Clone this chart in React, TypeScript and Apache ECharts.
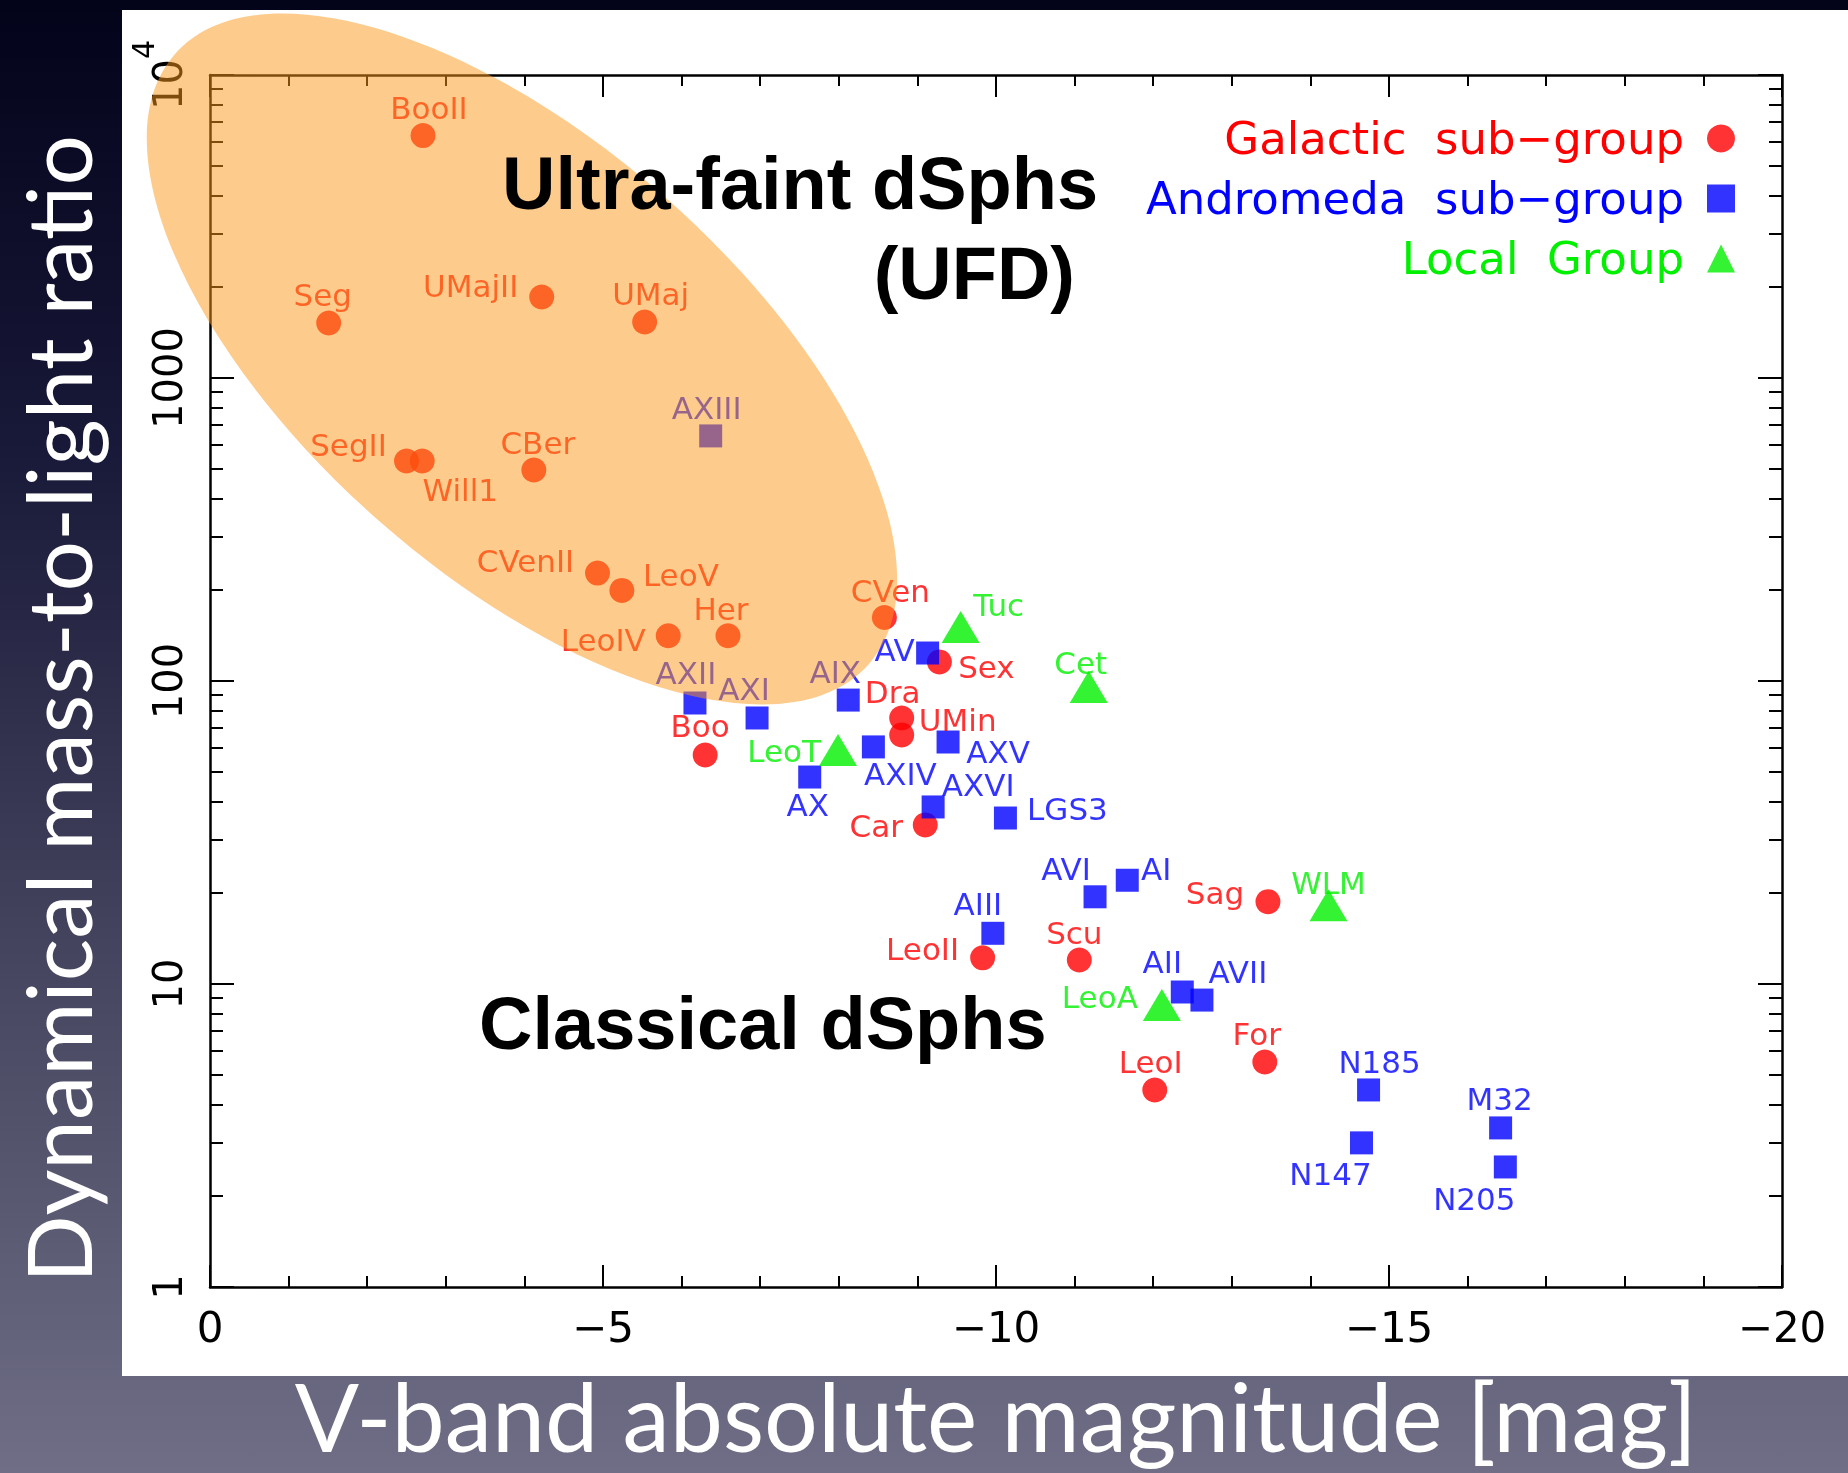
import React, { useEffect, useRef } from "react";
import * as echarts from "echarts";

// ---------------- data ----------------
const GALACTIC_NAMES = ["BooII", "Seg", "UMajII", "UMaj", "SegII", "Will1", "CBer", "CVenII", "LeoV", "LeoIV", "Her", "CVen", "Sex", "Dra", "UMin", "Boo", "Car", "Sag", "LeoII", "Scu", "For", "LeoI"];
const GALACTIC_MV = [-2.71, -1.51, -4.22, -5.53, -2.5, -2.7, -4.12, -4.93, -5.24, -5.83, -6.59, -8.58, -9.28, -8.8, -8.8, -6.3, -9.1, -13.46, -9.83, -11.06, -13.42, -12.02];
const GALACTIC_ML = [6310, 1519, 1850, 1531, 532, 532, 497, 227, 199, 141, 141, 162, 115.6, 75.5, 66.4, 57.0, 33.5, 18.7, 12.2, 12.0, 5.53, 4.47];

const ANDROMEDA_NAMES = ["AXIII", "AXII", "AXI", "AIX", "AV", "AXIV", "AX", "AXV", "AXVI", "LGS3", "AVI", "AI", "AIII", "AII", "AVII", "N185", "N147", "M32", "N205"];
const ANDROMEDA_MV = [-6.37, -6.17, -6.96, -8.12, -9.13, -8.44, -7.63, -9.39, -9.2, -10.12, -11.26, -11.67, -9.96, -12.37, -12.62, -14.74, -14.65, -16.42, -16.48];
const ANDROMEDA_ML = [644, 84.6, 75.5, 86.5, 123.7, 60.6, 48.2, 62.9, 38.4, 35.3, 19.4, 22.0, 14.7, 9.41, 8.85, 4.47, 2.99, 3.35, 2.49];

const LOCAL_NAMES = ["Tuc", "Cet", "LeoT", "WLM", "LeoA"];
const LOCAL_MV = [-9.55, -11.18, -7.99, -14.23, -12.11];
const LOCAL_ML = [150.7, 95.5, 59.2, 18.2, 8.53];

const SERIES_NAMES = ["Galactic sub\u2212group", "Andromeda sub\u2212group", "Local Group"];

const X_MIN = -20;
const X_MAX = 0;
const X_INTERVAL = 5;
const Y_MIN = 1;
const Y_MAX = 10000;
const Y_MAJOR_TICKS = [1, 10, 100, 1000, 10000];
const Y_MINOR_TICKS = [2, 3, 4, 5, 6, 7, 8, 9, 20, 30, 40, 50, 60, 70, 80, 90, 200, 300, 400, 500, 600, 700, 800, 900, 2000, 3000, 4000, 5000, 6000, 7000, 8000, 9000];

// label placement (pixel offsets of label centre from marker centre)
const LABEL_OFFSET: Record<string, [number, number]> = {
  BooII: [6, -28], Seg: [-6, -28], UMajII: [-71, -11], UMaj: [6, -28], SegII: [-58, -16], Will1: [38, 29],
  CBer: [4, -27], CVenII: [-72, -12], LeoV: [59, -15], LeoIV: [-65, 4], Her: [-7, -27], CVen: [6, -27],
  Sex: [47, 5], Dra: [-9, -26], UMin: [56, -15], Boo: [-5, -29], Car: [-49, 1], Sag: [-53, -9],
  LeoII: [-60, -9], Scu: [-5, -27], For: [-8, -28], LeoI: [-4, -28],
  AXIII: [-4, -28], AXII: [-9, -30], AXI: [-13, -29], AIX: [-13, -28], AV: [-33, -3], AXIV: [27, 27],
  AX: [-2, 28], AXV: [50, 10], AXVI: [45, -22], LGS3: [62, -9], AVI: [-29, -28], AI: [29, -11],
  AIII: [-15, -29], AII: [-20, -30], AVII: [36, -28], N185: [11, -28], N147: [-31, 31], M32: [-1, -29],
  N205: [-31, 32],
  Tuc: [38, -22], Cet: [-8, -24], LeoT: [-54, 1], WLM: [0, -22], LeoA: [-62, -8],
};

const RED = "#ff0000";
const BLUE = "#0000ff";
const GREEN = "#00f000";
const LABEL_FONT = '"DejaVu Sans", sans-serif';
const TICK_FONT = '"DejaVu Sans", sans-serif';
const TITLE_FONT = 'Lato, "Noto Sans", sans-serif';

function makeData(names: string[], xs: number[], ys: number[]) {
  return names.map((n, i) => ({
    name: n,
    value: [xs[i], ys[i]],
    label: { offset: LABEL_OFFSET[n] || [0, -28] },
  }));
}

function seriesLabel(color: string) {
  return {
    show: true,
    position: "inside",
    formatter: (p: any) => p.name,
    color,
    fontFamily: LABEL_FONT,
    fontSize: 31,
    align: "center",
    verticalAlign: "middle",
  };
}

const axisLineStyle = { color: "#000", width: 2.5 };
const tickLineStyle = { color: "#000", width: 2 };

function xAxisDef(position: "bottom" | "top", withLabels: boolean) {
  return {
    type: "value",
    position,
    min: X_MIN,
    max: X_MAX,
    interval: X_INTERVAL,
    inverse: true,
    axisLine: { show: true, onZero: false, lineStyle: axisLineStyle },
    axisTick: { show: true, inside: true, length: 22, lineStyle: tickLineStyle },
    minorTick: { show: true, splitNumber: 5, length: 11, lineStyle: tickLineStyle },
    splitLine: { show: false },
    minorSplitLine: { show: false },
    axisLabel: {
      show: withLabels,
      color: "#000",
      fontSize: 42,
      fontFamily: TICK_FONT,
      margin: 19,
      formatter: (v: number) => (v === 0 ? "0" : "\u2212" + Math.abs(v)),
    },
    ...(withLabels
      ? {
          name: "V-band absolute magnitude [mag]",
          nameLocation: "middle",
          nameGap: 80,
          nameTextStyle: { color: "#ffffff", fontSize: 95, lineHeight: 95, fontFamily: TITLE_FONT, fontWeight: 400 },
        }
      : {}),
  };
}

function yAxisDef(position: "left" | "right", major: boolean, withLabels: boolean) {
  const ticks = major ? Y_MAJOR_TICKS : Y_MINOR_TICKS;
  return {
    type: "log",
    logBase: 10,
    position,
    min: Y_MIN,
    max: Y_MAX,
    axisLine: { show: major, onZero: false, lineStyle: axisLineStyle },
    axisTick: { show: true, inside: true, length: major ? 24 : 13, lineStyle: tickLineStyle, customValues: ticks },
    splitLine: { show: false },
    axisLabel: withLabels
      ? {
          show: true,
          customValues: Y_MAJOR_TICKS,
          rotate: 90,
          margin: 22,
          color: "#000",
          fontSize: 40,
          fontFamily: TICK_FONT,
          formatter: (v: number) => (v >= 10000 ? "{b|10}{sup|4}" : String(Math.round(v))),
          rich: {
            b: { fontSize: 40, fontFamily: TICK_FONT, color: "#000", lineHeight: 60, verticalAlign: "bottom" },
            sup: { fontSize: 30, fontFamily: TICK_FONT, color: "#000", lineHeight: 60, verticalAlign: "top" },
          },
        }
      : { show: false },
    ...(withLabels
      ? {
          name: "Dynamical mass-to-light ratio",
          nameLocation: "middle",
          nameGap: 108,
          nameRotate: 90,
          nameTextStyle: { color: "#ffffff", fontSize: 89, lineHeight: 89, fontFamily: TITLE_FONT, fontWeight: 400, padding: [0, 56, 0, 0] },
        }
      : {}),
  };
}

export default function App() {
  const ref = useRef<HTMLDivElement>(null);
  useEffect(() => {
    if (!ref.current) return;
    const chart = echarts.init(ref.current, null, { renderer: "svg" });
    const option: any = {
      animation: false,
      grid: { left: 210, right: 66, top: 75, bottom: 186, containLabel: false, outerBoundsMode: "none" },
      legend: {
        orient: "vertical",
        right: 108,
        top: 111,
        align: "right",
        itemWidth: 28,
        itemHeight: 28,
        itemGap: 15,
        selectedMode: false,
        formatter: (n: string) => n.replace(" ", "  "),
        textStyle: { fontFamily: TICK_FONT, fontSize: 45, padding: [0, 18, 0, 0] },
        data: [
          { name: SERIES_NAMES[0], icon: "circle", textStyle: { color: RED } },
          { name: SERIES_NAMES[1], icon: "rect", textStyle: { color: BLUE } },
          { name: SERIES_NAMES[2], icon: "triangle", textStyle: { color: GREEN } },
        ],
      },
      xAxis: [xAxisDef("bottom", true), xAxisDef("top", false)],
      yAxis: [yAxisDef("left", true, true), yAxisDef("left", false, false), yAxisDef("right", true, false), yAxisDef("right", false, false)],
      series: [
        {
          type: "scatter",
          name: SERIES_NAMES[0],
          symbol: "circle",
          symbolSize: 25,
          itemStyle: { color: RED },
          label: seriesLabel(RED),
          emphasis: { disabled: true },
          data: makeData(GALACTIC_NAMES, GALACTIC_MV, GALACTIC_ML),
          z: 3,
        },
        {
          type: "scatter",
          name: SERIES_NAMES[1],
          symbol: "rect",
          symbolSize: 23,
          itemStyle: { color: BLUE },
          label: seriesLabel(BLUE),
          emphasis: { disabled: true },
          data: makeData(ANDROMEDA_NAMES, ANDROMEDA_MV, ANDROMEDA_ML),
          z: 3,
        },
        {
          type: "scatter",
          name: SERIES_NAMES[2],
          symbol: "triangle",
          symbolSize: [38, 32],
          itemStyle: { color: GREEN },
          label: seriesLabel(GREEN),
          emphasis: { disabled: true },
          data: makeData(LOCAL_NAMES, LOCAL_MV, LOCAL_ML),
          z: 3,
        },
      ],
      graphic: [
        {
          type: "rect",
          z: -100,
          silent: true,
          shape: { x: 0, y: 0, width: 1848, height: 1473 },
          style: {
            fill: new echarts.graphic.LinearGradient(0, 0, 0, 1, [
              { offset: 0, color: "#03031a" },
              { offset: 0.3, color: "#181838" },
              { offset: 0.65, color: "#45455f" },
              { offset: 1, color: "#6f6e86" },
            ]),
          },
        },
        { type: "rect", z: -99, silent: true, shape: { x: 122, y: 10, width: 1726, height: 1366 }, style: { fill: "#ffffff" } },
        {
          type: "ellipse",
          z: 100,
          silent: true,
          x: 522,
          y: 359,
          rotation: -0.721,
          shape: { cx: 0, cy: 0, rx: 462, ry: 216 },
          style: { fill: "rgba(251,151,25,0.5)" },
        },
        {
          type: "text",
          z: 110,
          x: 502,
          y: 183,
          style: { text: "Ultra-faint dSphs", font: 'bold 74px "Liberation Sans", Arial, sans-serif', fill: "#000", verticalAlign: "middle", align: "left" },
        },
        {
          type: "text",
          z: 110,
          x: 1075,
          y: 273,
          style: { text: "(UFD)", font: 'bold 74px "Liberation Sans", Arial, sans-serif', fill: "#000", verticalAlign: "middle", align: "right" },
        },
        {
          type: "text",
          z: 110,
          x: 479,
          y: 1023,
          style: { text: "Classical dSphs", font: 'bold 74px "Liberation Sans", Arial, sans-serif', fill: "#000", verticalAlign: "middle", align: "left" },
        },
      ],
    };
    chart.setOption(option);
    return () => chart.dispose();
  }, []);
  return <div ref={ref} style={{ position: "fixed", left: 0, top: 0, width: 1848, height: 1473 }} />;
}
